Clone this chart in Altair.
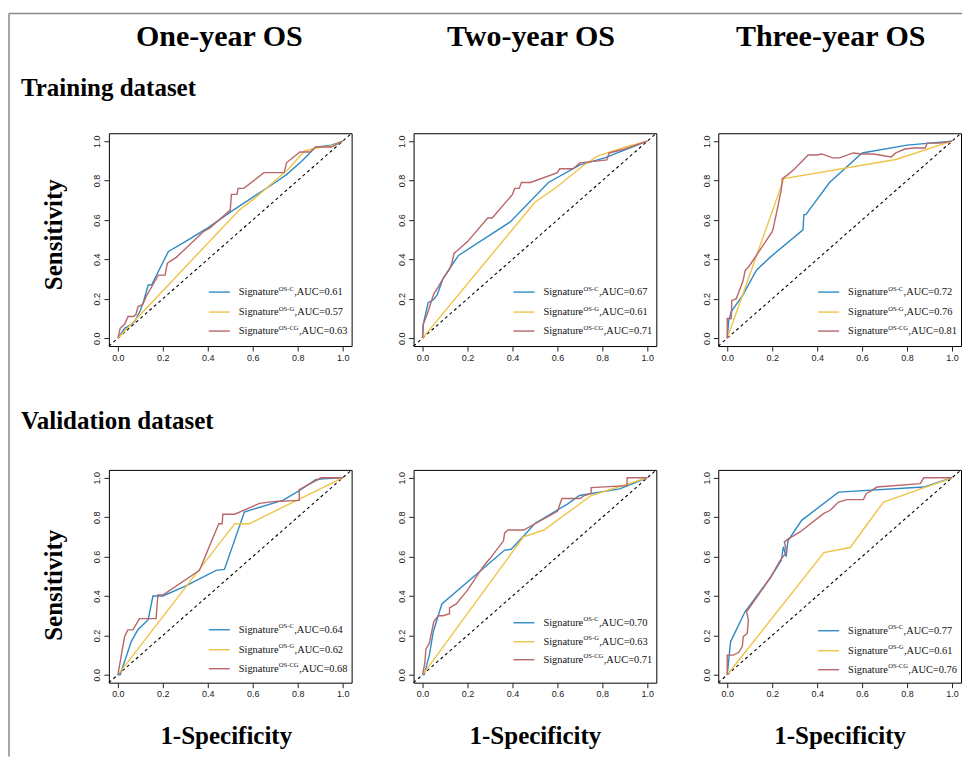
import altair as alt
import pandas as pd

BLUE = "#2f8ac4"
YELLOW = "#efc347"
RED = "#b8676a"

# ---------------- data: ROC curves (1-specificity, sensitivity) ----------------
# Training dataset, one-year OS
tr1_c_x = [0, 0.03, 0.06, 0.075, 0.10, 0.115, 0.135, 0.15, 0.185, 0.225, 0.30, 0.40, 0.50, 0.62, 0.70, 0.75, 0.82, 0.88, 0.95, 1.0]
tr1_c_y = [0, 0.05, 0.07, 0.085, 0.14, 0.19, 0.27, 0.27, 0.35, 0.44, 0.49, 0.56, 0.64, 0.73, 0.79, 0.83, 0.90, 0.97, 0.98, 1.0]
tr1_g_x = [0, 0.54, 0.62, 0.70, 0.76, 0.83, 0.88, 0.95, 1.0]
tr1_g_y = [0, 0.65, 0.72, 0.80, 0.86, 0.95, 0.965, 0.975, 1.0]
tr1_cg_x = [0, 0.01, 0.03, 0.045, 0.07, 0.08, 0.09, 0.11, 0.13, 0.16, 0.18, 0.21, 0.22, 0.26, 0.38, 0.41, 0.50, 0.505, 0.53, 0.535, 0.56, 0.65, 0.74, 0.75, 0.81, 0.855, 0.88, 0.95, 1.0]
tr1_cg_y = [0, 0.05, 0.07, 0.11, 0.11, 0.12, 0.16, 0.17, 0.22, 0.28, 0.32, 0.32, 0.38, 0.41, 0.54, 0.56, 0.65, 0.73, 0.73, 0.76, 0.76, 0.84, 0.84, 0.89, 0.945, 0.945, 0.97, 0.97, 1.0]

# Training dataset, two-year OS
tr2_c_x = [0, 0.003, 0.025, 0.048, 0.065, 0.092, 0.13, 0.16, 0.39, 0.56, 0.70, 0.81, 1.0]
tr2_c_y = [0, 0.07, 0.18, 0.195, 0.22, 0.305, 0.37, 0.42, 0.59, 0.79, 0.88, 0.915, 1.0]
tr2_g_x = [0, 0.5, 0.6, 0.72, 0.78, 0.9, 1.0]
tr2_g_y = [0, 0.69, 0.77, 0.88, 0.925, 0.97, 1.0]
tr2_cg_x = [0, 0.003, 0.02, 0.04, 0.05, 0.07, 0.09, 0.12, 0.13, 0.14, 0.16, 0.20, 0.29, 0.31, 0.40, 0.41, 0.43, 0.44, 0.48, 0.60, 0.61, 0.67, 0.70, 0.82, 0.83, 0.90, 1.0]
tr2_cg_y = [0, 0.07, 0.12, 0.19, 0.225, 0.26, 0.30, 0.35, 0.38, 0.43, 0.45, 0.49, 0.61, 0.61, 0.73, 0.76, 0.76, 0.79, 0.79, 0.84, 0.86, 0.86, 0.89, 0.905, 0.94, 0.96, 1.0]

# Training dataset, three-year OS
tr3_c_x = [0, 0.007, 0.018, 0.07, 0.13, 0.19, 0.337, 0.341, 0.35, 0.455, 0.60, 0.80, 1.0]
tr3_c_y = [0, 0.09, 0.135, 0.22, 0.345, 0.41, 0.55, 0.627, 0.627, 0.79, 0.94, 0.98, 1.0]
tr3_g_x = [0, 0.252, 0.75, 1.0]
tr3_g_y = [0, 0.81, 0.907, 1.0]
tr3_cg_x = [0, 0, 0.018, 0.02, 0.04, 0.07, 0.08, 0.09, 0.10, 0.20, 0.205, 0.22, 0.24, 0.245, 0.27, 0.30, 0.36, 0.40, 0.42, 0.47, 0.50, 0.56, 0.60, 0.65, 0.73, 0.75, 0.79, 0.83, 0.88, 0.89, 0.95, 1.0]
tr3_cg_y = [0, 0.10, 0.10, 0.19, 0.20, 0.29, 0.345, 0.355, 0.37, 0.54, 0.56, 0.64, 0.75, 0.81, 0.83, 0.86, 0.93, 0.93, 0.935, 0.915, 0.915, 0.94, 0.935, 0.935, 0.92, 0.94, 0.96, 0.965, 0.965, 0.99, 0.99, 1.0]

# Validation dataset, one-year OS
va1_c_x = [0, 0.01, 0.06, 0.09, 0.135, 0.156, 0.20, 0.30, 0.437, 0.474, 0.563, 0.60, 0.733, 0.80, 0.88, 0.91, 1.0]
va1_c_y = [0, 0, 0.17, 0.23, 0.28, 0.40, 0.40, 0.45, 0.53, 0.535, 0.826, 0.84, 0.885, 0.93, 0.99, 0.995, 1.0]
va1_g_x = [0, 0.52, 0.585, 1.0]
va1_g_y = [0, 0.767, 0.767, 1.0]
va1_cg_x = [0, 0.03, 0.044, 0.067, 0.096, 0.17, 0.178, 0.20, 0.363, 0.449, 0.464, 0.467, 0.52, 0.63, 0.70, 0.807, 0.807, 0.904, 1.0]
va1_cg_y = [0, 0.194, 0.228, 0.228, 0.285, 0.285, 0.405, 0.405, 0.53, 0.767, 0.767, 0.815, 0.815, 0.87, 0.88, 0.885, 0.94, 1.0, 1.0]

# Validation dataset, two-year OS
va2_c_x = [0, 0.007, 0.03, 0.048, 0.086, 0.364, 0.394, 0.453, 0.498, 0.646, 0.698, 0.877, 1.0]
va2_c_y = [0, 0, 0.1, 0.22, 0.36, 0.632, 0.637, 0.708, 0.767, 0.868, 0.91, 0.944, 1.0]
va2_g_x = [0, 0.449, 0.54, 0.75, 1.0]
va2_g_y = [0, 0.70, 0.735, 0.91, 1.0]
va2_cg_x = [0, 0.01, 0.015, 0.03, 0.05, 0.07, 0.09, 0.12, 0.12, 0.15, 0.20, 0.27, 0.30, 0.36, 0.365, 0.38, 0.45, 0.60, 0.62, 0.70, 0.72, 0.75, 0.75, 0.91, 0.91, 1.0]
va2_cg_y = [0, 0.06, 0.13, 0.16, 0.27, 0.30, 0.30, 0.31, 0.34, 0.36, 0.43, 0.55, 0.59, 0.68, 0.72, 0.735, 0.735, 0.83, 0.895, 0.895, 0.91, 0.92, 0.95, 0.96, 1.0, 1.0]

# Validation dataset, three-year OS
va3_c_x = [0, 0.015, 0.02, 0.079, 0.19, 0.24, 0.25, 0.262, 0.27, 0.331, 0.495, 0.874, 1.0]
va3_c_y = [0, 0.17, 0.18, 0.32, 0.49, 0.58, 0.65, 0.60, 0.68, 0.784, 0.927, 0.953, 1.0]
va3_g_x = [0, 0.43, 0.547, 0.695, 1.0]
va3_g_y = [0, 0.62, 0.646, 0.877, 1.0]
va3_cg_x = [0, 0, 0.027, 0.05, 0.067, 0.071, 0.089, 0.094, 0.086, 0.19, 0.235, 0.264, 0.254, 0.272, 0.324, 0.428, 0.458, 0.495, 0.532, 0.606, 0.618, 0.643, 0.666, 0.859, 0.874, 1.0]
va3_cg_y = [0, 0.10, 0.10, 0.113, 0.143, 0.194, 0.21, 0.278, 0.32, 0.49, 0.58, 0.624, 0.675, 0.69, 0.725, 0.818, 0.835, 0.877, 0.889, 0.889, 0.919, 0.936, 0.953, 0.97, 1.0, 1.0]

# AUC values shown in each legend (C, G, CG)
tr1_auc = ["0.61", "0.57", "0.63"]
tr2_auc = ["0.67", "0.61", "0.71"]
tr3_auc = ["0.72", "0.76", "0.81"]
va1_auc = ["0.64", "0.62", "0.68"]
va2_auc = ["0.70", "0.63", "0.71"]
va3_auc = ["0.77", "0.61", "0.76"]

sig_sup = ["OS-C", "OS-G", "OS-CG"]
col_titles = ["One-year OS", "Two-year OS", "Three-year OS"]
row_titles = ["Training dataset", "Validation dataset"]
tick_values = [0, 0.2, 0.4, 0.6, 0.8, 1.0]

# ---------------- helpers ----------------
TIMES = {"S": 556, "i": 278, "g": 500, "n": 500, "a": 444, "t": 278, "u": 500, "r": 333,
         "e": 444, ",": 250, "A": 722, "U": 722, "C": 667, "=": 564, ".": 250, "O": 722,
         "-": 333, "G": 722}
for d in "0123456789":
    TIMES[d] = 500


def tw(s, size):
    return sum(TIMES.get(ch, 500) for ch in s) / 1000.0 * size


DOMAIN = [-0.04, 1.04]
W, H = 243, 213
SERIF = "Liberation Serif"
SANS = "Liberation Sans"
LEG_FS = 10.4
SUP_FS = 6.6
one = pd.DataFrame({"k": [0]})


def roc_df(xs, ys):
    return pd.DataFrame({"fpr": xs, "tpr": ys, "i": list(range(len(xs)))})


def panel(curves, aucs, legend_y, xtitle=False, ytitle=False, ytitle_y=None,
          xtitle_x=None, extra=None):
    xscale = alt.Scale(domain=DOMAIN, nice=False, zero=False)
    yscale = alt.Scale(domain=DOMAIN, nice=False, zero=False)
    common = dict(values=tick_values, format=".1f", domain=False, grid=False,
                  ticks=True, tickSize=5, tickColor="#222", tickWidth=1,
                  labelFont=SANS, labelFontSize=9, labelColor="#222",
                  labelPadding=2, labelFlush=False, labelOverlap=False)
    if xtitle:
        xkw = dict(title="1-Specificity", titleFont=SERIF, titleFontSize=25,
                   titleFontWeight="bold", titleColor="black",
                   titleBaseline="alphabetic", titleY=61)
        if xtitle_x is not None:
            xkw["titleX"] = xtitle_x
    else:
        xkw = dict(title=None)
    if ytitle:
        ykw = dict(title="Sensitivity", titleFont=SERIF, titleFontSize=25,
                   titleFontWeight="bold", titleColor="black", titleAngle=270,
                   titleBaseline="alphabetic", titleX=-47, titleY=ytitle_y)
    else:
        ykw = dict(title=None)
    xaxis = alt.Axis(**common, **xkw)
    yaxis = alt.Axis(**common, labelAngle=270, labelAlign="center",
                     labelBaseline="bottom", **ykw)
    X = alt.X("fpr:Q", scale=xscale, axis=xaxis)
    Y = alt.Y("tpr:Q", scale=yscale, axis=yaxis)

    layers = []
    diag = alt.Chart(pd.DataFrame({"fpr": DOMAIN, "tpr": DOMAIN})).mark_line(
        color="black", strokeDash=[3, 3], strokeWidth=1.1).encode(x=X, y=Y)
    layers.append(diag)
    colors = [BLUE, YELLOW, RED]
    for (xs, ys), col in zip(curves, colors):
        layers.append(alt.Chart(roc_df(xs, ys)).mark_line(
            color=col, strokeWidth=1.4).encode(x=X, y=Y, order="i:Q"))

    # legend (drawn inside the plot, bottom-right)
    x_text = 130
    for k in range(3):
        ly = legend_y[k]
        col = colors[k]
        layers.append(alt.Chart(one).mark_rule(color=col, strokeWidth=1.4).encode(
            x=alt.value(100), x2=alt.value(121), y=alt.value(ly)))
        w1 = tw("Signature", LEG_FS)
        w2 = tw(sig_sup[k], SUP_FS)
        layers.append(alt.Chart(one).mark_text(
            align="left", baseline="middle", font=SERIF, fontSize=LEG_FS,
            color="#111").encode(x=alt.value(x_text), y=alt.value(ly),
                                 text=alt.value("Signature")))
        layers.append(alt.Chart(one).mark_text(
            align="left", baseline="middle", font=SERIF, fontSize=SUP_FS,
            color="#111").encode(x=alt.value(x_text + w1 + 0.3), y=alt.value(ly - 3.5),
                                 text=alt.value(sig_sup[k])))
        layers.append(alt.Chart(one).mark_text(
            align="left", baseline="middle", font=SERIF, fontSize=LEG_FS,
            color="#111").encode(x=alt.value(x_text + w1 + w2 + 0.6), y=alt.value(ly),
                                 text=alt.value(",AUC=" + aucs[k])))
    if extra:
        layers.extend(extra)
    return alt.layer(*layers).properties(width=W, height=H)


def col_title(text, dx):
    return alt.Title(text, font=SERIF, fontSize=30, fontWeight="bold",
                     color="black", anchor="middle", frame="group",
                     offset=79, dx=dx)


# decorations carried by the bottom-middle panel (origin at 413, 469)
frame_color = "#8a8a8a"
frame_top = alt.Chart(one).mark_rule(color=frame_color, strokeWidth=1.5).encode(
    x=alt.value(-405), x2=alt.value(549), y=alt.value(-457))
frame_left = alt.Chart(one).mark_rule(color=frame_color, strokeWidth=1.5).encode(
    x=alt.value(-405), y=alt.value(-457), y2=alt.value(287))
row1_label = alt.Chart(one).mark_text(
    align="left", baseline="alphabetic", font=SERIF, fontSize=25,
    fontWeight="bold", color="black").encode(
    x=alt.value(-393), y=alt.value(-374), text=alt.value(row_titles[0]))
row2_label = alt.Chart(one).mark_text(
    align="left", baseline="alphabetic", font=SERIF, fontSize=25,
    fontWeight="bold", color="black").encode(
    x=alt.value(-393), y=alt.value(-41), text=alt.value(row_titles[1]))

top_leg = [159, 179, 198]

p1 = panel([(tr1_c_x, tr1_c_y), (tr1_g_x, tr1_g_y), (tr1_cg_x, tr1_cg_y)], tr1_auc,
           top_leg, ytitle=True, ytitle_y=101).properties(title=col_title(col_titles[0], -11))
p2 = panel([(tr2_c_x, tr2_c_y), (tr2_g_x, tr2_g_y), (tr2_cg_x, tr2_cg_y)], tr2_auc,
           top_leg).properties(title=col_title(col_titles[1], -4))
p3 = panel([(tr3_c_x, tr3_c_y), (tr3_g_x, tr3_g_y), (tr3_cg_x, tr3_cg_y)], tr3_auc,
           top_leg).properties(title=col_title(col_titles[2], -9))
p4 = panel([(va1_c_x, va1_c_y), (va1_g_x, va1_g_y), (va1_cg_x, va1_cg_y)], va1_auc,
           [160, 180, 199], xtitle=True, ytitle=True, ytitle_y=115, xtitle_x=117)
p5 = panel([(va2_c_x, va2_c_y), (va2_g_x, va2_g_y), (va2_cg_x, va2_cg_y)], va2_auc,
           [153, 172, 190], xtitle=True,
           extra=[frame_top, frame_left, row1_label, row2_label])
p6 = panel([(va3_c_x, va3_c_y), (va3_g_x, va3_g_y), (va3_cg_x, va3_cg_y)], va3_auc,
           [161, 181, 200], xtitle=True)

chart = alt.concat(
    p1, p2, p3, p4, p5, p6,
    columns=3,
    spacing=alt.RowColnumber(row=124, column=62),
    bounds="flush",
).properties(
    padding={"left": 7, "top": 11, "right": 0, "bottom": 0},
    background="white",
).configure_view(stroke="black", strokeWidth=1)

chart.save("out.html", embed_options={"renderer": "svg", "actions": False})
